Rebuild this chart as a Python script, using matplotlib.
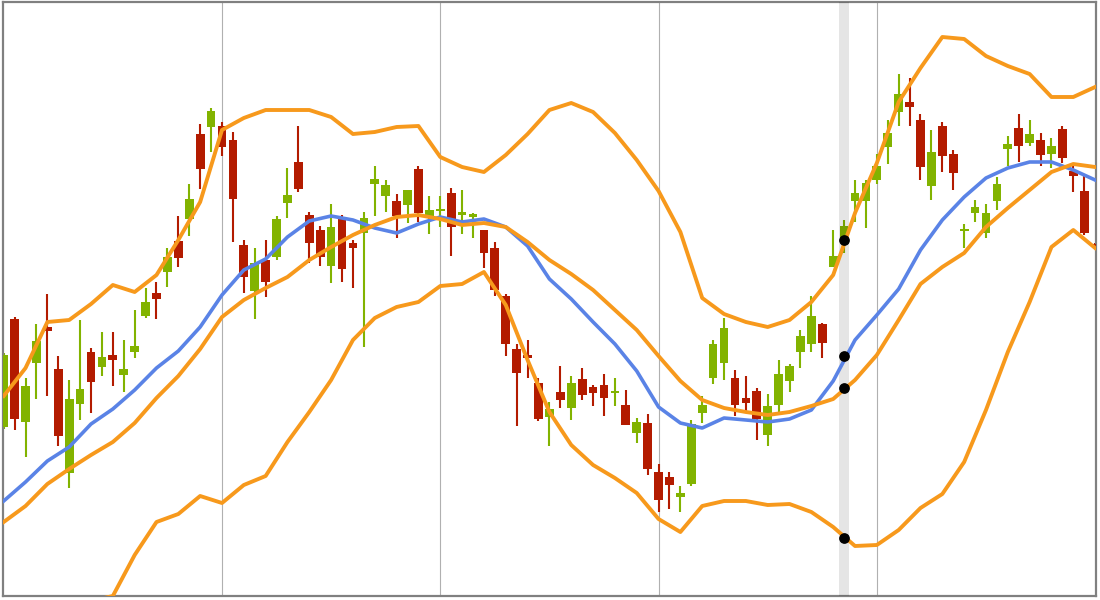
import numpy as np
import matplotlib
matplotlib.use("Agg")
import matplotlib.pyplot as plt

# candle data (one per session)
opens = [173, 281, 178, 237, 273, 231, 127, 196, 248, 233,
         245, 225, 248, 284, 307, 328, 359, 381, 466, 473,
         474, 460, 355, 309, 340, 343, 397, 438, 385, 370,
         334, 382, 357, 367, 416, 404, 399, 395, 431, 384,
         389, 407, 385, 383, 370, 352, 304, 251, 245, 217,
         183, 208, 192, 221, 213, 215, 207, 195, 167, 177,
         128, 123, 103, 116, 187, 222, 237, 222, 202, 209,
         165, 195, 219, 248, 256, 276, 333, 357, 399, 399,
         420, 453, 488, 498, 480, 414, 474, 446, 369, 387,
         367, 399, 451, 472, 457, 460, 446, 471, 429, 409,
         356]
highs = [247, 283, 222, 276, 306, 244, 220, 280, 252, 268,
         268, 260, 290, 312, 318, 352, 384, 416, 476, 492,
         478, 468, 360, 352, 360, 384, 432, 474, 388, 374,
         396, 385, 360, 388, 434, 420, 406, 410, 434, 404,
         404, 412, 410, 387, 370, 358, 306, 256, 260, 222,
         198, 234, 224, 232, 215, 226, 222, 210, 182, 186,
         136, 128, 114, 180, 204, 260, 282, 230, 224, 212,
         206, 240, 236, 270, 304, 277, 370, 380, 420, 420,
         446, 480, 526, 522, 486, 470, 478, 450, 376, 400,
         396, 423, 464, 486, 480, 467, 462, 474, 434, 424,
         357]
lows = [171, 170, 143, 201, 204, 154, 112, 180, 187, 224,
        214, 208, 242, 282, 281, 313, 333, 364, 411, 448,
        444, 358, 307, 281, 303, 340, 382, 408, 337, 334,
        317, 318, 312, 253, 384, 388, 362, 377, 378, 366,
        373, 344, 366, 362, 332, 304, 244, 174, 222, 179,
        154, 192, 180, 200, 194, 184, 194, 175, 157, 125,
        88, 91, 88, 114, 177, 216, 220, 184, 189, 160,
        154, 188, 208, 232, 248, 242, 333, 347, 378, 372,
        416, 436, 474, 474, 420, 400, 428, 410, 352, 378,
        362, 390, 434, 438, 454, 434, 432, 437, 408, 365,
        352]
closes = [245, 181, 214, 259, 269, 164, 201, 211, 218, 243,
          240, 231, 254, 298, 301, 343, 342, 401, 431, 489,
          453, 401, 323, 337, 318, 381, 405, 411, 357, 343,
          373, 331, 352, 382, 421, 415, 384, 410, 387, 390,
          391, 373, 388, 386, 347, 310, 256, 227, 242, 181,
          191, 200, 217, 205, 207, 202, 209, 175, 178, 131,
          100, 115, 107, 176, 195, 256, 272, 195, 197, 181,
          194, 226, 234, 264, 284, 257, 344, 374, 407, 417,
          434, 467, 506, 493, 433, 448, 444, 427, 371, 393,
          387, 416, 456, 454, 466, 445, 454, 442, 424, 367,
          353]

# indicator lines, sampled every second session
line_idx = list(range(0, 101, 2))
upper = [204, 232, 278, 280, 296, 315, 308, 325, 360, 398,
         470, 482, 490, 490, 490, 483, 466, 468, 473, 474,
         443, 433, 428, 445, 466, 490, 497, 488, 467, 440,
         409, 368, 302, 286, 278, 273, 280, 298, 325, 387,
         437, 498, 532, 563, 561, 544, 534, 526, 503, 503,
         513]
blue_ma = [99, 118, 139, 153, 176, 191, 210, 232, 249, 273,
           305, 330, 341, 363, 379, 384, 380, 372, 367, 376,
           383, 378, 381, 373, 354, 321, 301, 278, 256, 229,
           193, 177, 172, 182, 180, 178, 181, 190, 219, 260,
           285, 311, 350, 380, 403, 422, 432, 438, 438, 430,
           420]
mid = [78, 94, 116, 131, 145, 158, 177, 202, 224, 251,
       283, 300, 312, 323, 340, 353, 365, 375, 383, 385,
       381, 375, 377, 373, 358, 340, 326, 310, 290, 270,
       244, 219, 200, 192, 188, 185, 188, 194, 201, 220,
       245, 280, 316, 333, 347, 373, 392, 410, 428, 436,
       433]
lower = [-25, -22, -18, -12, -1, 4, 45, 78, 86, 104,
         97, 115, 124, 158, 188, 220, 260, 282, 293, 298,
         314, 316, 328, 295, 240, 188, 155, 135, 122, 107,
         81, 68, 94, 99, 99, 95, 96, 88, 73, 54,
         55, 70, 92, 106, 138, 190, 248, 298, 353, 370,
         352]

highlight_idx = 77
highlight_vals = [360, 244, 212, 62]
grid_idx = [20, 40, 60, 80]

GREEN = "#82b300"
RED = "#b31b00"
BLUE = "#5a83e6"
ORANGE = "#f7991c"

fig = plt.figure(figsize=(11, 6), dpi=100)
ax = fig.add_axes([3 / 1100, 4 / 600, 1093 / 1100, 594.5 / 600])

o = np.array(opens)
h = np.array(highs)
l = np.array(lows)
c = np.array(closes)
x = np.arange(len(o))
up = c >= o
cols = np.where(up, GREEN, RED)

for xv in grid_idx:
    ax.axvline(xv, color="#b0b0b0", lw=0.8, zorder=0)

ax.vlines(x, l, h, colors=cols, lw=1.5, zorder=2)
body_lo = np.minimum(o, c)
body_h = np.maximum(np.abs(c - o), 2)
ax.bar(x, body_h, bottom=body_lo, width=0.8, color=cols, zorder=3)

ax.axvspan(highlight_idx - 0.45, highlight_idx + 0.45, color="black", alpha=0.1, lw=0, zorder=4)

ax.plot(line_idx, blue_ma, color=BLUE, lw=2.6, zorder=5, solid_joinstyle="round")
for series in (upper, mid, lower):
    ax.plot(line_idx, series, color=ORANGE, lw=2.8, zorder=6, solid_joinstyle="round")

ax.scatter([highlight_idx] * len(highlight_vals), highlight_vals, s=45, color="black", zorder=7)

ax.set_xlim(-0.064, 100.08)
ax.set_ylim(4, 598.5)
ax.set_xticks([])
ax.set_yticks([])
for sp in ax.spines.values():
    sp.set_color("#808080")
    sp.set_linewidth(1.6)

fig.savefig("out.png", dpi=100)
